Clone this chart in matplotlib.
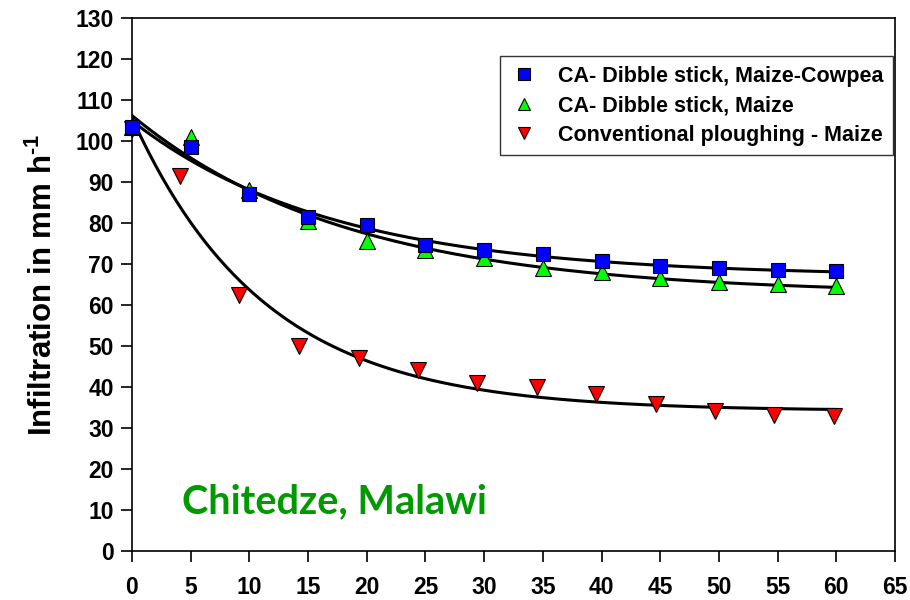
import numpy as np
import matplotlib
matplotlib.use("Agg")
import matplotlib.pyplot as plt

# infiltration readings (mm/h) against time (minutes)
time_ca = [0, 5, 10, 15, 20, 25, 30, 35, 40, 45, 50, 55, 60]
ca_maize_cowpea = [103.5, 98.5, 87.0, 81.5, 79.5, 74.5, 73.5, 72.3, 70.8, 69.5, 69.0, 68.5, 68.2]
ca_maize = [103.5, 101.0, 88.0, 80.5, 75.5, 73.5, 71.5, 69.0, 68.0, 66.5, 65.5, 65.0, 64.5]

time_conv = [0, 4.1, 9.1, 14.2, 19.3, 24.4, 29.4, 34.5, 39.5, 44.6, 49.7, 54.7, 59.8]
conventional = [103.0, 91.5, 62.3, 49.9, 47.0, 44.1, 40.9, 40.0, 38.2, 35.8, 34.1, 33.1, 32.9]

x_ticks = list(range(0, 70, 5))
y_ticks = list(range(0, 140, 10))

labels = ["CA- Dibble stick, Maize-Cowpea",
          "CA- Dibble stick, Maize",
          "Conventional ploughing - Maize"]


def fit_decay(x, y):
    # y = y0 + a*exp(-b*x), brute force over b, least squares for the rest
    x = np.asarray(x, float)
    y = np.asarray(y, float)
    best = None
    for b in np.linspace(0.005, 0.6, 1200):
        A = np.c_[np.ones_like(x), np.exp(-b * x)]
        coef, res, _, _ = np.linalg.lstsq(A, y, rcond=None)
        err = np.sum((A @ coef - y) ** 2)
        if best is None or err < best[0]:
            best = (err, coef[0], coef[1], b)
    _, y0, a, b = best
    return lambda t: y0 + a * np.exp(-b * t)


plt.rcParams['font.family'] = ['Liberation Sans', 'DejaVu Sans']
plt.rcParams['font.weight'] = 'bold'
plt.rcParams['mathtext.fontset'] = 'custom'
plt.rcParams['mathtext.rm'] = 'Liberation Sans:bold'
plt.rcParams['mathtext.bf'] = 'Liberation Sans:bold'
plt.rcParams['mathtext.it'] = 'Liberation Sans:bold'

fig = plt.figure(figsize=(9.1, 6.0), dpi=100)
ax = fig.add_axes([0.145, 0.082, 0.8385, 0.888])

t = np.linspace(0, 60, 300)
for xs, ys in ((time_ca, ca_maize_cowpea), (time_ca, ca_maize), (time_conv, conventional)):
    f = fit_decay(xs, ys)
    ax.plot(t, f(t), color='black', lw=2.2, zorder=2)

ax.plot(time_conv, conventional, 'v', color='#ff0000', mec='black', mew=0.8, ms=11,
        ls='none', label=labels[2], zorder=3, clip_on=False)
ax.plot(time_ca, ca_maize, '^', color='#00ff00', mec='black', mew=0.8, ms=11,
        ls='none', label=labels[1], zorder=4, clip_on=False)
ax.plot(time_ca, ca_maize_cowpea, 's', color='#0000ff', mec='black', mew=0.8, ms=10,
        ls='none', label=labels[0], zorder=5, clip_on=False)

ax.set_xlim(0, 65)
ax.set_ylim(0, 130)
ax.set_xticks(x_ticks)
ax.set_yticks(y_ticks)
ax.tick_params(direction='out', length=8, width=1.2, labelsize=16.5, pad=5)
ax.tick_params(axis='x', pad=10)
for s in ax.spines.values():
    s.set_linewidth(1.2)

ax.set_ylabel(r"Infiltration in mm h$^{\text{-1}}$", fontsize=22.5, fontweight='bold', labelpad=12)

handles, lbls = ax.get_legend_handles_labels()
order = [2, 1, 0]
leg = ax.legend([handles[i] for i in order], [lbls[i] for i in order],
                loc='upper right', bbox_to_anchor=(0.997, 0.929), borderaxespad=0,
                fontsize=15.5, frameon=True, fancybox=False, edgecolor='black',
                handlelength=1.3, handletextpad=0.9, borderpad=0.45, labelspacing=0.4,
                markerscale=0.8)
leg.get_frame().set_linewidth(1.0)
for txt in leg.get_texts():
    txt.set_fontweight('bold')

ax.text(0.0655, 0.071, "Chitedze, Malawi", transform=ax.transAxes, color='#009900',
        fontsize=28.5, fontweight='bold', va='baseline', family=['Lato', 'DejaVu Sans'])

fig.savefig("out.png", dpi=100)
